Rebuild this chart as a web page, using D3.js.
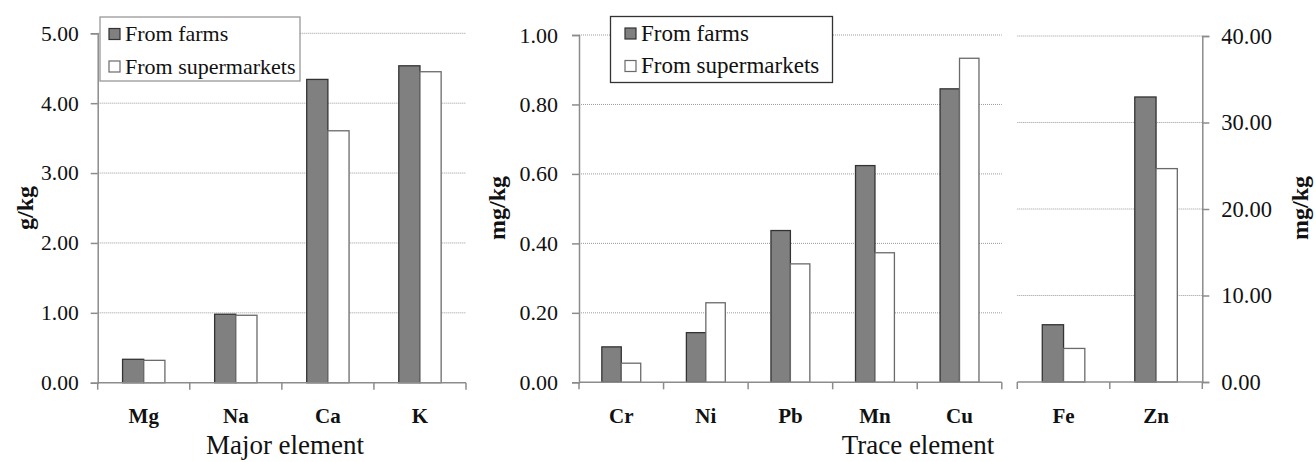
<!DOCTYPE html>
<html>
<head>
<meta charset="utf-8">
<script src="https://cdn.jsdelivr.net/npm/d3@7"></script>
<style>
  body { margin: 0; background: #fff; }
  svg text { font-family: "Liberation Serif", "Tinos", "DejaVu Serif", "Noto Serif", "Times New Roman", Times, serif; }
</style>
</head>
<body>
<svg id="chart" width="1316" height="462"></svg>
<script>
// data
const majorElements = ['Mg', 'Na', 'Ca', 'K'];
const majorFarms = [0.335, 0.98, 4.34, 4.535];
const majorSuper = [0.32, 0.965, 3.605, 4.45];

const traceElements = ['Cr', 'Ni', 'Pb', 'Mn', 'Cu'];
const traceFarms = [0.102, 0.143, 0.437, 0.624, 0.845];
const traceSuper = [0.055, 0.229, 0.341, 0.373, 0.933];

const heavyElements = ['Fe', 'Zn'];
const heavyFarms = [6.62, 32.95];
const heavySuper = [3.88, 24.67];

const seriesNames = ['From farms', 'From supermarkets'];

const serif = '"Liberation Serif", "Tinos", "DejaVu Serif", "Noto Serif", "Times New Roman", Times, serif';
const svg = d3.select('#chart');
const fill = ['#808080', '#ffffff'];
const stroke = ['#333333', '#6a6a6a'];
const axisColor = '#8c8c8c';

function drawPanel(p) {
  const x = d3.scaleBand().domain(p.cats).range([p.x0, p.x1]);
  const y = d3.scaleLinear().domain([0, p.max]).range([p.y0, p.y1]);
  const g = svg.append('g');

  // dotted gridlines
  g.selectAll('.grid')
    .data(y.ticks(p.nTicks).filter(d => d > 0))
    .enter().append('line')
    .attr('x1', p.x0).attr('x2', p.x1)
    .attr('y1', d => y(d)).attr('y2', d => y(d))
    .attr('stroke', '#9a9a9a')
    .attr('stroke-width', 1)
    .attr('stroke-dasharray', '1,1');

  // bars
  const groupW = x.bandwidth() * 0.46;
  const barW = groupW / 2;
  [p.a, p.b].forEach((vals, s) => {
    g.selectAll('.bar' + s)
      .data(p.cats)
      .enter().append('rect')
      .attr('x', (d, i) => x(d) + (x.bandwidth() - groupW) / 2 + s * barW)
      .attr('y', (d, i) => y(vals[i]))
      .attr('width', barW)
      .attr('height', (d, i) => y(0) - y(vals[i]))
      .attr('fill', fill[s])
      .attr('stroke', stroke[s])
      .attr('stroke-width', 1.3);
  });

  // category axis
  const edges = p.cats.map(d => x(d)).concat([p.x1]);
  g.append('line')
    .attr('x1', p.x0).attr('x2', p.x1)
    .attr('y1', y(0)).attr('y2', y(0))
    .attr('stroke', axisColor).attr('stroke-width', 1.5);
  g.selectAll('.xtick')
    .data(edges)
    .enter().append('line')
    .attr('x1', d => d).attr('x2', d => d)
    .attr('y1', y(0)).attr('y2', y(0) + 7)
    .attr('stroke', axisColor).attr('stroke-width', 1.5);
  g.selectAll('.xlab')
    .data(p.cats)
    .enter().append('text')
    .attr('x', d => x(d) + x.bandwidth() / 2)
    .attr('y', 423)
    .attr('text-anchor', 'middle')
    .attr('font-family', serif)
    .attr('font-weight', 'bold')
    .attr('font-size', 21)
    .attr('fill', '#111')
    .text(d => d);

  // value axis
  const axis = p.right ? d3.axisRight(y) : d3.axisLeft(y);
  const ya = g.append('g')
    .attr('transform', 'translate(' + (p.right ? p.x1 : p.x0) + ',0)')
    .call(axis.ticks(p.nTicks).tickFormat(d3.format('.2f')).tickSizeOuter(0).tickSize(7).tickPadding(p.pad));
  ya.attr('font-family', serif);
  ya.select('.domain').attr('stroke', axisColor).attr('stroke-width', 1.5);
  ya.selectAll('.tick line').attr('stroke', axisColor).attr('stroke-width', 1.5);
  ya.selectAll('.tick text')
    .attr('font-size', p.tickFont)
    .attr('font-family', serif)
    .attr('fill', '#111');

  if (p.yTitle) {
    g.append('text')
      .attr('transform', 'translate(' + p.yTitleX + ',208) rotate(-90)')
      .attr('text-anchor', 'middle')
      .attr('dominant-baseline', 'middle')
      .attr('font-family', serif)
      .attr('font-weight', 'bold')
      .attr('font-size', 24)
      .attr('fill', '#111')
      .text(p.yTitle);
  }

  if (p.legend) {
    const L = p.legend;
    const lg = g.append('g');
    lg.append('rect')
      .attr('x', L.x).attr('y', L.y)
      .attr('width', L.w).attr('height', L.h)
      .attr('fill', '#fff')
      .attr('stroke', L.border).attr('stroke-width', 1.3);
    seriesNames.forEach((name, s) => {
      const cy = L.y + 17 + s * 32.5;
      lg.append('rect')
        .attr('x', L.x + L.sw).attr('y', cy - 5.5)
        .attr('width', 11).attr('height', 11)
        .attr('fill', fill[s]).attr('stroke', stroke[s]).attr('stroke-width', 1.2);
      lg.append('text')
        .attr('x', L.x + L.sw + 16).attr('y', cy + 7)
        .attr('font-family', serif)
        .attr('font-size', L.font)
        .attr('fill', '#111')
        .text(name);
    });
  }
}

drawPanel({
  cats: majorElements, a: majorFarms, b: majorSuper, max: 5, nTicks: 5,
  x0: 97.7, x1: 466, y0: 382.7, y1: 33.3, pad: 12, tickFont: 21.5,
  yTitle: 'g/kg', yTitleX: 27,
  legend: { x: 100, y: 17, w: 200, h: 64, sw: 9, font: 22, border: '#999' }
});

drawPanel({
  cats: traceElements, a: traceFarms, b: traceSuper, max: 1, nTicks: 5,
  x0: 579, x1: 1001.8, y0: 382.3, y1: 35, pad: 14, tickFont: 22,
  yTitle: 'mg/kg', yTitleX: 499,
  legend: { x: 610.5, y: 16.5, w: 222, h: 66, sw: 14.5, font: 23, border: '#333' }
});

drawPanel({
  cats: heavyElements, a: heavyFarms, b: heavySuper, max: 40, nTicks: 4,
  x0: 1017.3, x1: 1202.3, y0: 382, y1: 36, pad: 12, tickFont: 22.5, right: true,
  yTitle: 'mg/kg', yTitleX: 1302
});

// axis group titles
svg.append('text')
  .attr('x', 285).attr('y', 454)
  .attr('text-anchor', 'middle')
  .attr('font-family', serif)
  .attr('font-size', 27)
  .attr('fill', '#111')
  .text('Major element');
svg.append('text')
  .attr('x', 918).attr('y', 454)
  .attr('text-anchor', 'middle')
  .attr('font-family', serif)
  .attr('font-size', 27)
  .attr('fill', '#111')
  .text('Trace element');
</script>
</body>
</html>
